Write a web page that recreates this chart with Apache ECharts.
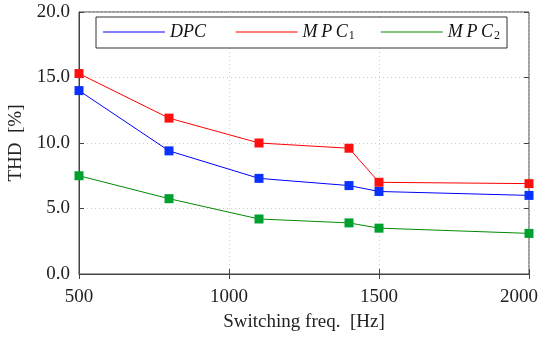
<!DOCTYPE html>
<html>
<head>
<meta charset="utf-8">
<script src="https://cdn.jsdelivr.net/npm/echarts@6/dist/echarts.min.js"></script>
<style>
  html, body { margin: 0; padding: 0; background: #fff; }
  #chart { width: 542px; height: 341px; }
</style>
</head>
<body>
<div id="chart"></div>
<script>
var freq = [500, 800, 1100, 1400, 1500, 2000];
var dpc = [14.0, 9.4, 7.3, 6.75, 6.3, 6.0];
var mpc1 = [15.3, 11.9, 10.0, 9.6, 7.0, 6.9];
var mpc2 = [7.5, 5.75, 4.2, 3.9, 3.5, 3.1];
var seriesNames = ['DPC', 'MPC1', 'MPC2'];
var legendLabels = {
    DPC: '{i|DPC\u2009}',
    MPC1: '{i|M\u2009P\u2009C}{s|1}',
    MPC2: '{i|M\u2009P\u2009C}{s|2}'
};
var lineColors = { DPC: '#0000ff', MPC1: '#ff0000', MPC2: '#008a00' };

var font = 'Liberation Serif';
var axisColor = '#444';

function pairs(ys) {
    return freq.map(function (x, i) { return [x, ys[i]]; });
}

function makeSeries(name, ys, markColor) {
    return {
        name: name,
        type: 'line',
        data: pairs(ys),
        symbol: 'rect',
        symbolSize: 9,
        lineStyle: { color: lineColors[name], width: 1 },
        itemStyle: { color: markColor },
        emphasis: { disabled: true },
        animation: false
    };
}

var myChart = echarts.init(document.getElementById('chart'));
myChart.setOption({
    grid: {
        left: 79, right: 13, top: 12, bottom: 67,
        outerBoundsMode: 'none',
        show: true, borderColor: axisColor, borderWidth: 1
    },
    legend: {
        data: seriesNames.map(function (n) {
            return { name: n, icon: 'rect', itemStyle: { color: lineColors[n], borderWidth: 0 } };
        }),
        top: 17,
        left: 96,
        padding: [6, 7, 6, 7],
        itemGap: 26,
        itemWidth: 62,
        itemHeight: 1,
        borderColor: '#333',
        borderWidth: 1,
        backgroundColor: '#fff',
        formatter: function (n) { return legendLabels[n]; },
        textStyle: {
            rich: {
                i: { fontFamily: font, fontStyle: 'italic', fontSize: 18, color: '#111' },
                s: { fontFamily: font, fontSize: 12, color: '#111', verticalAlign: 'bottom', padding: [8, 0, 0, 1] }
            }
        }
    },
    xAxis: [{
        type: 'value',
        min: 500,
        max: 2000,
        interval: 500,
        axisLine: { lineStyle: { color: axisColor } },
        axisTick: { inside: true, length: 5, lineStyle: { color: axisColor } },
        axisLabel: {
            fontFamily: font, fontSize: 19, color: '#222', margin: 14,
            formatter: function (v) { return v === 2000 ? '{r|' + v + '}' : String(v); },
            rich: { r: { fontFamily: font, fontSize: 19, color: '#222', padding: [0, 20, 0, 0] } }
        },
        splitLine: { show: true, lineStyle: { color: '#ccc', type: [1, 3] } },
        name: 'Switching freq.  [Hz]',
        nameLocation: 'middle',
        nameGap: 39,
        nameTextStyle: { fontFamily: font, fontSize: 19, color: '#222' }
    }, {
        type: 'value',
        position: 'top',
        min: 500,
        max: 2000,
        interval: 500,
        axisLine: { show: false },
        axisTick: { inside: true, length: 5, lineStyle: { color: axisColor } },
        axisLabel: { show: false },
        splitLine: { show: false }
    }],
    yAxis: [{
        type: 'value',
        min: 0,
        max: 20,
        interval: 5,
        axisLine: { show: true, lineStyle: { color: axisColor } },
        axisTick: { show: true, inside: true, length: 5, lineStyle: { color: axisColor } },
        axisLabel: {
            fontFamily: font, fontSize: 19, color: '#222', margin: 9,
            formatter: function (v) { return v.toFixed(1); }
        },
        splitLine: { show: true, lineStyle: { color: '#ccc', type: [1, 3] } },
        name: 'THD  [%]',
        nameLocation: 'middle',
        nameGap: 50,
        nameTextStyle: { fontFamily: font, fontSize: 19, color: '#222' }
    }, {
        type: 'value',
        position: 'right',
        min: 0,
        max: 20,
        interval: 5,
        axisLine: { show: false },
        axisTick: { show: true, inside: true, length: 5, lineStyle: { color: axisColor } },
        axisLabel: { show: false },
        splitLine: { show: false }
    }],
    series: [
        makeSeries('DPC', dpc, '#0a32ff'),
        makeSeries('MPC1', mpc1, '#ff1010'),
        makeSeries('MPC2', mpc2, '#00a030')
    ]
});

window.addEventListener('resize', function () {
    myChart.resize();
}, false);
</script>
</body>
</html>
